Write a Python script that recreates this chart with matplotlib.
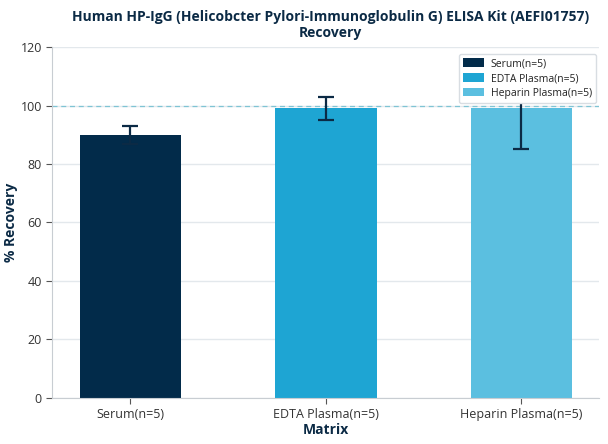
import matplotlib
matplotlib.use("Agg")
import matplotlib.pyplot as plt
import numpy as np
from matplotlib import font_manager

names = {f.name for f in font_manager.fontManager.ttflist}
fam = 'Open Sans' if 'Open Sans' in names else 'Noto Sans'
plt.rcParams['font.family'] = [fam, 'DejaVu Sans']

categories = ["Serum(n=5)", "EDTA Plasma(n=5)", "Heparin Plasma(n=5)"]
values = [90, 99, 99]
errors = [3, 4, 14]
colors = ["#022B4A", "#1EA5D3", "#5BBFE0"]

fig = plt.figure(figsize=(6.08, 4.44), dpi=100)
ax = fig.add_axes([0.086, 0.104, 0.9, 0.79])

x = np.arange(len(categories))
for i in range(len(categories)):
    ax.bar(x[i], values[i], width=0.52, color=colors[i], label=categories[i], zorder=2)
    ax.errorbar(x[i], values[i], yerr=errors[i], color="#0B2A45", capsize=6,
                elinewidth=1.6, capthick=1.6, fmt='none', zorder=3)

ax.axhline(100, color="#7FC4D4", linestyle=(0, (4, 3)), linewidth=0.9, zorder=1)

ax.set_xlim(-0.4, 2.4)
ax.set_ylim(0, 120)
ax.set_yticks([0, 20, 40, 60, 80, 100, 120])
ax.set_xticks(x)
ax.set_xticklabels(categories)
ax.grid(axis='y', color="#E3E8EC", linewidth=1, zorder=0)
ax.set_axisbelow(True)
for s in ['top', 'right']:
    ax.spines[s].set_visible(False)
for s in ['left', 'bottom']:
    ax.spines[s].set_color("#C8CDD2")
ax.tick_params(colors="#333333", labelsize=9, length=4)
ax.tick_params(axis='both', color="#555555")

ax.set_xlabel("Matrix", fontsize=10, fontweight='bold', color="#0B2A45", labelpad=1)
ax.set_ylabel("% Recovery", fontsize=10, fontweight='bold', color="#0B2A45", labelpad=2)
fig.suptitle("Human HP-IgG (Helicobcter Pylori-Immunoglobulin G) ELISA Kit (AEFI01757)\nRecovery",
             fontsize=10, fontweight='bold', color="#0B2A45", x=0.543, y=0.978, linespacing=1.2)

leg = ax.legend(loc='upper right', fontsize=7.5, frameon=True, borderpad=0.45,
                handlelength=2.0, handleheight=0.9, labelspacing=0.35, handletextpad=0.6,
                borderaxespad=0.3, bbox_to_anchor=(1.0, 0.99))
leg.get_frame().set_edgecolor("#D8DDE2")
leg.get_frame().set_alpha(1)
leg.set_zorder(5)
for t in leg.get_texts():
    t.set_color("#222222")

fig.savefig("out.png", dpi=100)
